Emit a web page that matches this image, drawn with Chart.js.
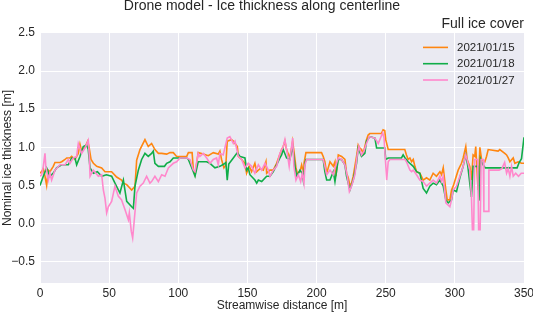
<!DOCTYPE html>
<html>
<head>
<meta charset="utf-8">
<script src="https://cdn.jsdelivr.net/npm/chart.js@4/dist/chart.umd.min.js"></script>
<style>
  body { margin: 0; background: #fff; }
</style>
</head>
<body>
<canvas id="grafico" width="533" height="313"></canvas>
<script>
// dados: distancia [m] e espessura [m] para cada data
const labels = ['2021/01/15', '2021/01/18', '2021/01/27'];
const colors = ['#ff8610', '#10ad48', '#ff88cc'];

const dist15 = [
  0, 1.2, 2.4, 3.6, 4.8, 6, 7.2, 9.6, 10.8, 14.5,
  15.7, 18.1, 19.3, 21.7, 22.9, 25.3, 26.5, 27.7, 28.9, 30.1,
  32.5, 34.5, 35.4, 36.9, 38.6, 41, 44.6, 47, 51.8, 55.4,
  59, 60.3, 62.7, 66.3, 68.7, 69.9, 72.3, 75.9, 78.3, 80.7,
  83.1, 85.6, 88, 91.6, 94, 96.4, 98.8, 106.1, 107.3, 110,
  110.9, 112.1, 114.4, 118.1, 121.7, 125.3, 128.9, 130.1, 131.3, 133,
  134.4, 135.4, 138.5, 139.8, 142.7, 143.4, 145.8, 148.2, 149.4, 151.3,
  153, 155.4, 156.7, 159.1, 161.5, 163.4, 163.9, 166.3, 168.7, 171.1,
  174.7, 175.9, 177.1, 178.3, 180.7, 182.7, 184.4, 185.1, 186.1, 188,
  189.2, 190.4, 190.9, 192.3, 203.6, 204.8, 206, 207.3, 209.7, 212.1,
  213.3, 214, 215.7, 218.1, 220.5, 221.7, 222.9, 224.1, 225.3, 226.5,
  227.7, 228.9, 230.1, 231.3, 232.5, 233.7, 236.1, 237.3, 238.5, 246.9,
  248.1, 249.3, 250, 251.8, 253, 263.8, 265, 266.2, 267.5, 268.7,
  269.9, 271.1, 272.3, 274.7, 277.1, 279.5, 281.9, 284.3, 286.7, 289.2,
  290.4, 291.6, 293.5, 294.5, 296.4, 297.6, 298.8, 302.4, 304.8, 306,
  307.9, 308.9, 310.8, 312, 313.2, 314.4, 315.1, 316.8, 318.1, 319.3,
  321.7, 322.9, 324.1, 331.3, 332.5, 336.1, 337.4, 338.6, 339.8, 342.2,
  343.4, 345.8, 348.2, 350
];
const ice15 = [
  0.66, 0.68, 0.72, 0.62, 0.50, 0.70, 0.68, 0.75, 0.80, 0.80,
  0.81, 0.84, 0.86, 0.86, 0.88, 0.84, 0.88, 0.92, 1.04, 0.95,
  1.00, 1.08, 1.01, 0.84, 0.79, 0.75, 0.73, 0.68, 0.68, 0.61,
  0.57, 0.53, 0.51, 0.44, 0.49, 0.83, 0.97, 1.10, 1.01, 1.05,
  0.97, 0.92, 0.92, 0.91, 0.93, 0.93, 0.88, 0.88, 0.93, 0.93,
  0.70, 0.64, 0.93, 0.91, 0.89, 0.93, 0.91, 0.95, 0.84, 0.73,
  0.77, 1.08, 1.10, 1.08, 1.01, 0.88, 0.84, 0.79, 0.66, 0.75,
  0.68, 0.79, 0.68, 0.72, 0.70, 0.81, 0.66, 0.70, 0.70, 0.79,
  0.97, 1.01, 1.08, 0.97, 0.86, 1.08, 0.84, 0.73, 0.66, 0.68,
  0.77, 0.68, 0.79, 0.93, 0.93, 0.88, 0.81, 0.66, 0.81, 0.75,
  0.81, 0.62, 0.90, 0.88, 0.84, 0.66, 0.60, 0.50, 0.53, 0.62,
  0.75, 0.88, 1.03, 0.99, 0.97, 0.92, 1.10, 1.16, 1.18, 1.18,
  1.23, 1.22, 1.10, 0.97, 0.97, 0.97, 0.90, 0.84, 0.86, 0.81,
  0.84, 0.75, 0.68, 0.66, 0.57, 0.60, 0.57, 0.66, 0.62, 0.68,
  0.64, 0.73, 0.44, 0.31, 0.31, 0.44, 0.49, 0.70, 0.79, 0.86,
  1.01, 0.84, 0.75, 0.57, 0.90, 0.88, 1.01, 0.44, 1.00, 0.84,
  0.81, 0.88, 0.97, 0.95, 0.97, 0.92, 0.90, 0.86, 0.81, 0.86,
  0.79, 0.81, 0.79, 0.79
];

const dist18 = [
  0, 2.4, 4.8, 7.2, 9.6, 12, 15.7, 20.5, 22.9, 25.3,
  26.5, 28.9, 31.3, 33.7, 34.9, 36.2, 38.6, 41.5, 44.6, 48,
  51.8, 54.2, 57.8, 60.3, 62.7, 66.3, 67.5, 68.7, 71.1, 73.5,
  75.9, 78.3, 80.7, 81.9, 83.1, 85.6, 90, 91.6, 94, 96.4,
  106.1, 107.3, 110.9, 112.1, 114.4, 120.5, 122.9, 124.1, 126.5, 130.1,
  133, 134.4, 135.4, 136.5, 139.8, 142.7, 144.6, 148.2, 149.4, 150.6,
  151.8, 155.4, 156.7, 157.9, 160.3, 163.9, 166.3, 168.7, 171.1, 173.5,
  174.7, 175.9, 178.3, 180.7, 182.7, 184.4, 185.6, 188, 189.7, 190.4,
  191.6, 192.3, 204.8, 206, 207.3, 209.7, 212.1, 213.3, 215.7, 218.1,
  220.5, 221.7, 224.1, 226.5, 228.9, 230.1, 232.5, 234.9, 236.1, 238.5,
  242.2, 243.4, 249.3, 250, 251.8, 261.4, 262.6, 264, 266.2, 269.9,
  272.3, 274.7, 277.1, 279.5, 281.9, 284.3, 286.7, 289.2, 291.6, 293.5,
  295.2, 297.6, 298.8, 301.2, 303.6, 306, 307.9, 309.4, 310.8, 312,
  313.2, 316.5, 317.5, 318.5, 320, 322, 345, 346.5, 348.2, 350
];
const ice18 = [
  0.50, 0.62, 0.73, 0.62, 0.66, 0.73, 0.77, 0.77, 0.86, 0.86,
  0.77, 0.88, 1.01, 1.03, 0.97, 0.73, 0.66, 0.68, 0.62, 0.64,
  0.62, 0.53, 0.40, 0.57, 0.29, 0.22, 0.20, 0.49, 0.70, 0.84,
  0.92, 0.88, 0.92, 0.95, 0.79, 0.75, 0.75, 0.79, 0.81, 0.86,
  0.86, 0.84, 0.68, 0.62, 0.81, 0.81, 0.79, 0.77, 0.73, 0.75,
  0.78, 0.80, 0.57, 0.78, 0.86, 0.93, 0.88, 0.86, 0.70, 0.73,
  0.64, 0.57, 0.53, 0.57, 0.55, 0.62, 0.62, 0.68, 0.77, 0.86,
  0.90, 0.97, 0.86, 0.84, 1.01, 0.75, 0.62, 0.70, 0.66, 0.57,
  0.79, 0.84, 0.84, 0.68, 0.57, 0.57, 0.68, 0.55, 0.84, 0.84,
  0.77, 0.62, 0.44, 0.57, 0.79, 0.99, 0.88, 0.92, 1.08, 1.14,
  1.12, 0.99, 0.99, 0.84, 0.86, 0.86, 0.90, 0.86, 0.81, 0.75,
  0.68, 0.66, 0.46, 0.40, 0.49, 0.53, 0.51, 0.57, 0.49, 0.31,
  0.27, 0.31, 0.44, 0.42, 0.60, 0.75, 0.90, 0.75, 0.53, 0.35,
  0.75, 0.75, 0.30, 0.85, 0.78, 0.73, 0.73, 0.80, 0.85, 1.13
];

const dist27 = [
  0, 1.2, 2.4, 3.6, 4.2, 6, 7.2, 8.4, 10.8, 14.5,
  18.1, 20.5, 21.7, 24.1, 26.5, 27.7, 30.1, 32.5, 34.9, 35.6,
  36.2, 38.6, 42.2, 44.6, 45.8, 47, 48.2, 49.4, 51.8, 54.2,
  56.6, 59, 61.5, 63.9, 64.6, 66, 67, 68.2, 69.9, 72.3,
  74.7, 77.1, 79.5, 80.7, 83.1, 85.6, 88, 90.4, 92.8, 96.4,
  98.8, 101.2, 106.1, 108.5, 110.9, 112.1, 114.4, 115.6, 118.1, 120.5,
  122.9, 125.3, 127.7, 128.9, 130.1, 132.5, 135.4, 137.3, 139.8, 141,
  143.4, 145.8, 148.2, 150.6, 153, 155.4, 157.9, 160.3, 162.7, 165.1,
  166.3, 168.7, 171.1, 173.5, 175.9, 177.1, 178.8, 180.2, 182.7, 183.6,
  185.1, 186.8, 188.5, 189.7, 190.9, 191.6, 192.8, 204.8, 206, 207.3,
  209.7, 212.1, 213.3, 215.7, 218.1, 220.5, 222.2, 223.7, 225.3, 227.7,
  229.4, 230.6, 232.5, 234.3, 236.1, 238.1, 242.2, 244.6, 247.8, 248.8,
  250.7, 251.8, 253, 264, 265, 267.5, 268.7, 269.9, 272.3, 274.7,
  277.1, 279.5, 281.9, 284.3, 286.7, 289.2, 290.4, 291.6, 293.5, 296.4,
  297.6, 298.8, 301.2, 303.6, 306, 307.9, 310.8, 312, 312.7, 313.6,
  314.3, 316.5, 317.2, 318.3, 319, 320.5, 321, 324, 324.6, 332,
  334, 336, 337.4, 338.6, 339.8, 341, 342.2, 344, 346, 348,
  350
];
const ice27 = [
  0.62, 0.64, 0.75, 0.92, 0.75, 0.57, 0.66, 0.57, 0.70, 0.77,
  0.77, 0.84, 0.79, 0.86, 0.88, 1.05, 0.92, 0.99, 1.09, 0.90,
  0.62, 0.70, 0.62, 0.64, 0.44, 0.33, 0.14, 0.22, 0.29, 0.49,
  0.36, 0.31, 0.18, 0.05, 0.14, -0.10, -0.19, 0.05, 0.40, 0.49,
  0.53, 0.62, 0.53, 0.55, 0.62, 0.55, 0.64, 0.62, 0.73, 0.79,
  0.81, 0.86, 0.86, 0.84, 0.70, 0.68, 0.92, 0.88, 0.92, 0.86,
  0.79, 0.84, 0.86, 0.77, 0.92, 0.90, 1.12, 1.14, 1.05, 1.08,
  0.88, 0.84, 0.73, 0.79, 0.75, 0.66, 0.77, 0.70, 0.79, 0.70,
  0.62, 0.70, 0.75, 0.92, 1.01, 1.10, 0.92, 0.75, 1.12, 0.75,
  0.57, 0.64, 0.55, 0.66, 0.53, 0.77, 0.84, 0.84, 0.75, 0.64,
  0.70, 0.64, 0.73, 0.86, 0.84, 0.77, 0.62, 0.42, 0.49, 0.64,
  0.90, 1.01, 0.90, 0.95, 1.05, 1.14, 1.12, 1.05, 1.19, 1.12,
  0.57, 0.81, 0.84, 0.84, 0.81, 0.70, 0.68, 0.70, 0.64, 0.57,
  0.55, 0.49, 0.53, 0.57, 0.53, 0.62, 0.55, 0.62, 0.27, 0.22,
  0.31, 0.44, 0.49, 0.62, 0.75, 0.90, 0.70, 0.35, -0.08, -0.08,
  0.84, 0.84, -0.08, -0.08, 0.84, 0.84, 0.16, 0.16, 0.70, 0.70,
  0.72, 0.80, 0.66, 0.72, 0.62, 0.75, 0.62, 0.66, 0.62, 0.66,
  0.66
];

const xTicks = [0, 50, 100, 150, 200, 250, 300, 350];
const yTicks = [-0.5, 0.0, 0.5, 1.0, 1.5, 2.0, 2.5];

function pares(xs, ys) {
  return xs.map((x, i) => ({ x: x, y: ys[i] }));
}

const fonte = 'Liberation Sans, Arial, Helvetica, sans-serif';
const corTexto = '#262626';

// fundo cinza-azulado da area do grafico
const fundoPlugin = {
  id: 'fundo',
  beforeDraw(chart) {
    const { ctx, chartArea } = chart;
    ctx.save();
    ctx.fillStyle = '#eaeaf2';
    ctx.fillRect(chartArea.left, chartArea.top, chartArea.right - chartArea.left, chartArea.bottom - chartArea.top);
    ctx.restore();
  }
};

// legenda dentro do grafico, canto superior direito
const legendaPlugin = {
  id: 'legendaDentro',
  afterDraw(chart) {
    const { ctx, chartArea } = chart;
    ctx.save();
    ctx.font = '11.5px ' + fonte;
    ctx.textBaseline = 'middle';
    ctx.textAlign = 'left';
    chart.data.datasets.forEach((ds, i) => {
      const y = chartArea.top + 14.5 + i * 16.3;
      const x0 = chartArea.right - 101;
      ctx.strokeStyle = ds.borderColor;
      ctx.lineWidth = 1.6;
      ctx.beginPath();
      ctx.moveTo(x0, y);
      ctx.lineTo(x0 + 25, y);
      ctx.stroke();
      ctx.fillStyle = corTexto;
      ctx.fillText(ds.label, x0 + 34, y + 0.5);
    });
    ctx.restore();
  }
};

const ctx = document.getElementById('grafico').getContext('2d');

const grafico = new Chart(ctx, {
  type: 'line',
  data: {
    datasets: [
      { label: labels[0], data: pares(dist15, ice15), borderColor: colors[0], backgroundColor: colors[0], order: 3 },
      { label: labels[1], data: pares(dist18, ice18), borderColor: colors[1], backgroundColor: colors[1], order: 2 },
      { label: labels[2], data: pares(dist27, ice27), borderColor: colors[2], backgroundColor: colors[2], order: 1 }
    ]
  },
  options: {
    responsive: false,
    animation: false,
    elements: {
      point: { radius: 0 },
      line: { borderWidth: 1.6, tension: 0 }
    },
    layout: { padding: { left: 0, right: 9, top: 0, bottom: 0 } },
    plugins: {
      legend: { display: false },
      tooltip: { enabled: false },
      title: {
        display: true,
        text: 'Drone model - Ice thickness along centerline',
        color: corTexto,
        font: { family: fonte, size: 14, weight: 'normal', lineHeight: 0.85 },
        padding: { top: 0, bottom: 5 }
      },
      subtitle: {
        display: true,
        text: 'Full ice cover',
        align: 'end',
        color: corTexto,
        font: { family: fonte, size: 14, weight: 'normal', lineHeight: 1 },
        padding: { top: 0, bottom: 2 }
      }
    },
    scales: {
      x: {
        type: 'linear',
        min: 0,
        max: 350,
        afterBuildTicks(scale) { scale.ticks = xTicks.map(v => ({ value: v })); },
        afterFit(scale) {
          scale.height = 30;
          scale.paddingLeft = 0;
          scale.paddingRight = 0;
        },
        ticks: { color: corTexto, font: { family: fonte, size: 12 }, padding: 3, maxRotation: 0 },
        grid: { color: '#ffffff', lineWidth: 1, drawTicks: false },
        border: { display: false },
        title: {
          display: true,
          text: 'Streamwise distance [m]',
          color: corTexto,
          font: { family: fonte, size: 12 },
          padding: { top: 0, bottom: 0 }
        }
      },
      y: {
        type: 'linear',
        min: -0.78,
        max: 2.5,
        afterBuildTicks(scale) { scale.ticks = yTicks.map(v => ({ value: v })); },
        afterFit(scale) { scale.width = 40; },
        ticks: {
          color: corTexto,
          font: { family: fonte, size: 12 },
          padding: 5,
          callback: v => (v < 0 ? '\u2212' : '') + Math.abs(v).toFixed(1)
        },
        grid: { color: '#ffffff', lineWidth: 1, drawTicks: false },
        border: { display: false },
        title: {
          display: true,
          text: 'Nominal ice thickness [m]',
          color: corTexto,
          font: { family: fonte, size: 12 },
          padding: { top: 0, bottom: 0 }
        }
      }
    }
  },
  plugins: [fundoPlugin, legendaPlugin]
});
</script>
</body>
</html>
